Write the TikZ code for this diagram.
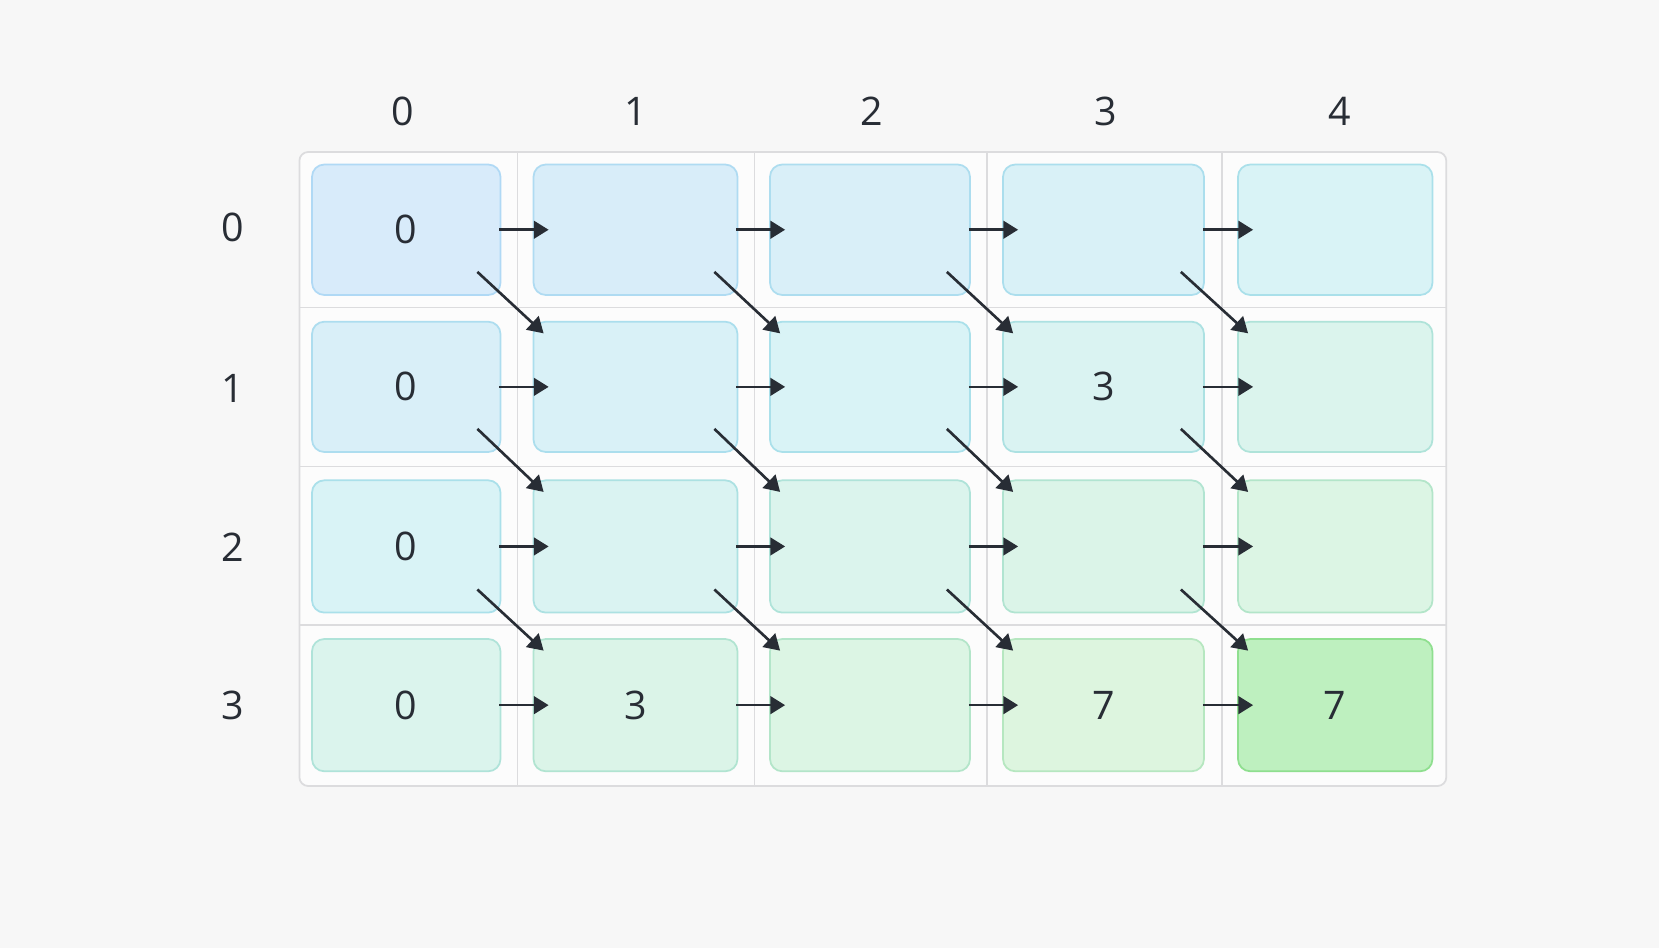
\documentclass[tikz,border=0pt]{standalone}
\usepackage{fontspec}
\setmainfont{Open Sans}
\usepackage{xcolor}
\usetikzlibrary{arrows.meta}
\definecolor{PageGrey}{RGB}{247,247,247}
\definecolor{TableWhite}{RGB}{252,252,252}
\definecolor{GridGrey}{RGB}{220,220,222}
\definecolor{InkDark}{RGB}{40,45,53}
\definecolor{FillBlue}{RGB}{216,235,250}
\definecolor{FillCyan}{RGB}{217,243,246}
\definecolor{FillGreen}{RGB}{222,246,218}
\definecolor{EdgeBlue}{RGB}{176,217,245}
\definecolor{EdgeCyan}{RGB}{170,224,234}
\definecolor{EdgeGreen}{RGB}{184,232,184}
\definecolor{GoalFill}{RGB}{190,240,191}
\definecolor{GoalEdge}{RGB}{143,223,143}
\def\colL{{312,533.5,770,1003,1238}}
\def\colR{{500.5,737.5,970,1204,1432.5}}
\tikzset{
  dpcell/.style={draw, line width=0.5pt, rounded corners=3.5pt, inner sep=0pt,
    font=\fontsize{11.2}{13}\selectfont, text=InkDark},
  idxlab/.style={font=\fontsize{11.2}{13}\selectfont, text=InkDark, inner sep=0pt},
  gridline/.style={GridGrey, line width=0.5pt},
  rightarr/.style={-{Triangle[length=4.2pt, width=5pt]}, line width=0.75pt, InkDark},
  diagarr/.style={-{Triangle[length=4.4pt, width=5.2pt]}, line width=0.75pt, InkDark},
}

\begin{document}
\begin{tikzpicture}[x=0.01cm, y=-0.01cm]
    \fill[PageGrey] (0,0) rectangle (1659,948);
    % table frame and grid
    \draw[gridline, fill=TableWhite, rounded corners=2.5pt] (299.4,152) rectangle (1446.3,786);
    \foreach \x in {517.5,754.4,987,1222}
      \draw[gridline] (\x,152) -- (\x,786);
    \foreach \y in {307.5,466.6,625.3}
      \draw[gridline] (299.4,\y) -- (1446.3,\y);
    % index labels
    \foreach \c/\x in {0/403, 1/636, 2/872, 3/1105.6, 4/1339.5}
      \node[idxlab] (col\c) at (\x,111) {\c};
    \foreach \r/\y in {0/227.7, 1/388.3, 2/547, 3/705.7}
      \node[idxlab] (row\r) at (232.8,\y) {\r};
    % dp cells, blue -> cyan -> green
    \foreach \r/\yt/\yb/\vals in {0/164.5/295/{0,n,n,n,n}, 1/321.7/452/{0,n,n,3,n},
                                  2/480.3/612.6/{0,n,n,n,n}, 3/639/771.3/{0,3,n,7,7}} {
      \foreach \v [count=\c from 0] in \vals {
        \pgfmathsetmacro\xa{\colL[\c]}
        \pgfmathsetmacro\xb{\colR[\c]}
        \pgfmathtruncatemacro\t{60*\r/3+40*\c/4}
        \ifnum\t<40
          \pgfmathtruncatemacro\p{100*\t/40}
          \def\cf{FillCyan!\p!FillBlue}\def\ce{EdgeCyan!\p!EdgeBlue}
        \else
          \pgfmathtruncatemacro\p{100*(\t-40)/60}
          \def\cf{FillGreen!\p!FillCyan}\def\ce{EdgeGreen!\p!EdgeCyan}
        \fi
        \ifnum\t=100 \def\cf{GoalFill}\def\ce{GoalEdge}\fi
        \if n\v \def\txt{}\else \let\txt\v \fi
        \node[dpcell, fill=\cf, draw=\ce, minimum width={(\xb-\xa)*0.01cm},
          minimum height={(\yb-\yt)*0.01cm}] (c\r\c) at ({(\xa+\xb)/2},{(\yt+\yb)/2}) {\txt};
      }
    }
    % transitions
    \foreach \r in {0,...,3}
      \foreach \c in {0,...,3} {
        \pgfmathtruncatemacro\n{\c+1}
        \draw[rightarr] ([xshift=-0.02cm]c\r\c.east) -- ([xshift=0.16cm]c\r\n.west);
      }
    \foreach \r in {0,...,2}
      \foreach \c in {0,...,3} {
        \pgfmathtruncatemacro\n{\c+1}
        \pgfmathtruncatemacro\m{\r+1}
        \draw[diagarr] ([shift={(-24,-24)}]c\r\c.south east) -- ([shift={(11,12.5)}]c\m\n.north west);
      }
\end{tikzpicture}
\end{document}
